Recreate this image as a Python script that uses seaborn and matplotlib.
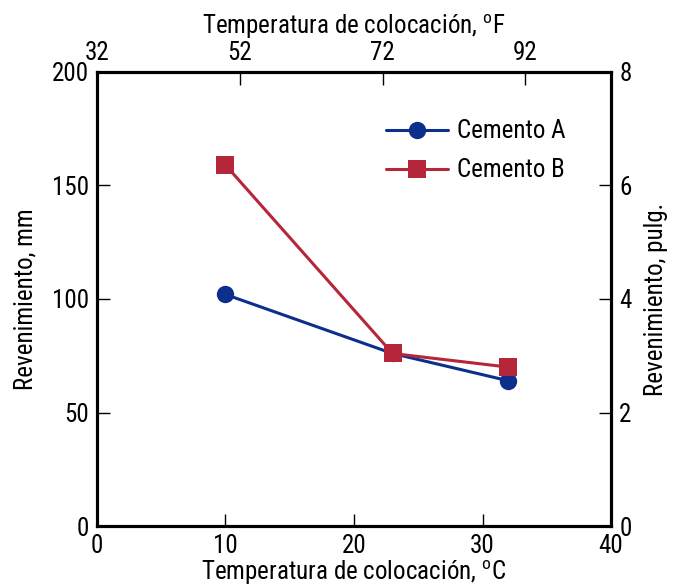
import pandas as pd
import matplotlib
matplotlib.use('Agg')
import matplotlib.pyplot as plt
from matplotlib import font_manager
import seaborn as sns

sns.set_style('white')

# fuente angosta si existe
nombres = {f.name for f in font_manager.fontManager.ttflist}
fuente = 'Liberation Sans'
for cand in ['Liberation Sans Narrow', 'DejaVu Sans Condensed', 'Roboto Condensed', 'Open Sans Condensed']:
    if cand in nombres:
        fuente = cand
        break
plt.rcParams['font.family'] = [fuente, 'DejaVu Sans']
plt.rcParams['mathtext.fontset'] = 'custom'
plt.rcParams['mathtext.rm'] = fuente
plt.rcParams['text.color'] = 'black'
plt.rcParams['axes.labelcolor'] = 'black'

# datos
temp_c = [10, 23, 32]
cemento_a = [102, 76, 64]
cemento_b = [159, 76, 70]
series = ['Cemento A', 'Cemento B']
colores = ['#0b2f8a', '#b5263a']
ticks_f = [32, 52, 72, 92]

df = pd.DataFrame({
    'temp': temp_c * 2,
    'rev': cemento_a + cemento_b,
    'cemento': [series[0]] * 3 + [series[1]] * 3,
})

fig = plt.figure(figsize=(6.73, 5.88), dpi=100)
ax = fig.add_axes([0.1441, 0.1054, 0.7638, 0.7722])

sns.lineplot(data=df, x='temp', y='rev', hue='cemento', style='cemento',
             palette=colores, markers={'Cemento A': 'o', 'Cemento B': 's'},
             dashes=False, linewidth=2.2, markersize=12.5, markeredgewidth=0,
             ax=ax)

fs = 18 if fuente != 'Liberation Sans' else 15
ax.set_xlim(0, 40)
ax.set_ylim(0, 200)
ax.set_xticks([0, 10, 20, 30, 40])
ax.set_yticks([0, 50, 100, 150, 200])
ax.set_xlabel('Temperatura de colocación, $^{\\rm o}$C', fontsize=fs, labelpad=0)
ax.set_ylabel('Revenimiento, mm', fontsize=fs, labelpad=10)
ax.tick_params(direction='in', length=9, width=1, labelsize=fs, pad=6, colors='black')
for s in ax.spines.values():
    s.set_linewidth(2.2)
    s.set_color('black')

leg = ax.legend(loc='upper right', bbox_to_anchor=(0.955, 0.945), frameon=False,
                fontsize=fs, handlelength=2.5, handletextpad=0.35, labelspacing=0.6)

# eje derecho en pulgadas
ax2 = ax.twinx()
ax2.set_ylim(0, 8)
ax2.set_yticks([0, 2, 4, 6, 8])
ax2.set_ylabel('Revenimiento, pulg.', fontsize=fs, labelpad=9)
ax2.tick_params(direction='in', length=9, width=1, labelsize=fs, pad=6, colors='black')

# eje superior en Fahrenheit
ax3 = ax.twiny()
ax3.set_xlim(0, 40)
ax3.set_xticks([(f - 32) / 1.8 for f in ticks_f])
ax3.set_xticklabels([str(f) for f in ticks_f])
ax3.set_xlabel('Temperatura de colocación, $^{\\rm o}$F', fontsize=fs, labelpad=5)
ax3.tick_params(direction='in', length=9, width=1, labelsize=fs, pad=5, colors='black')
for a in (ax2, ax3):
    for s in a.spines.values():
        s.set_linewidth(2.2)
        s.set_color('black')

fig.savefig('out.png', dpi=100)
